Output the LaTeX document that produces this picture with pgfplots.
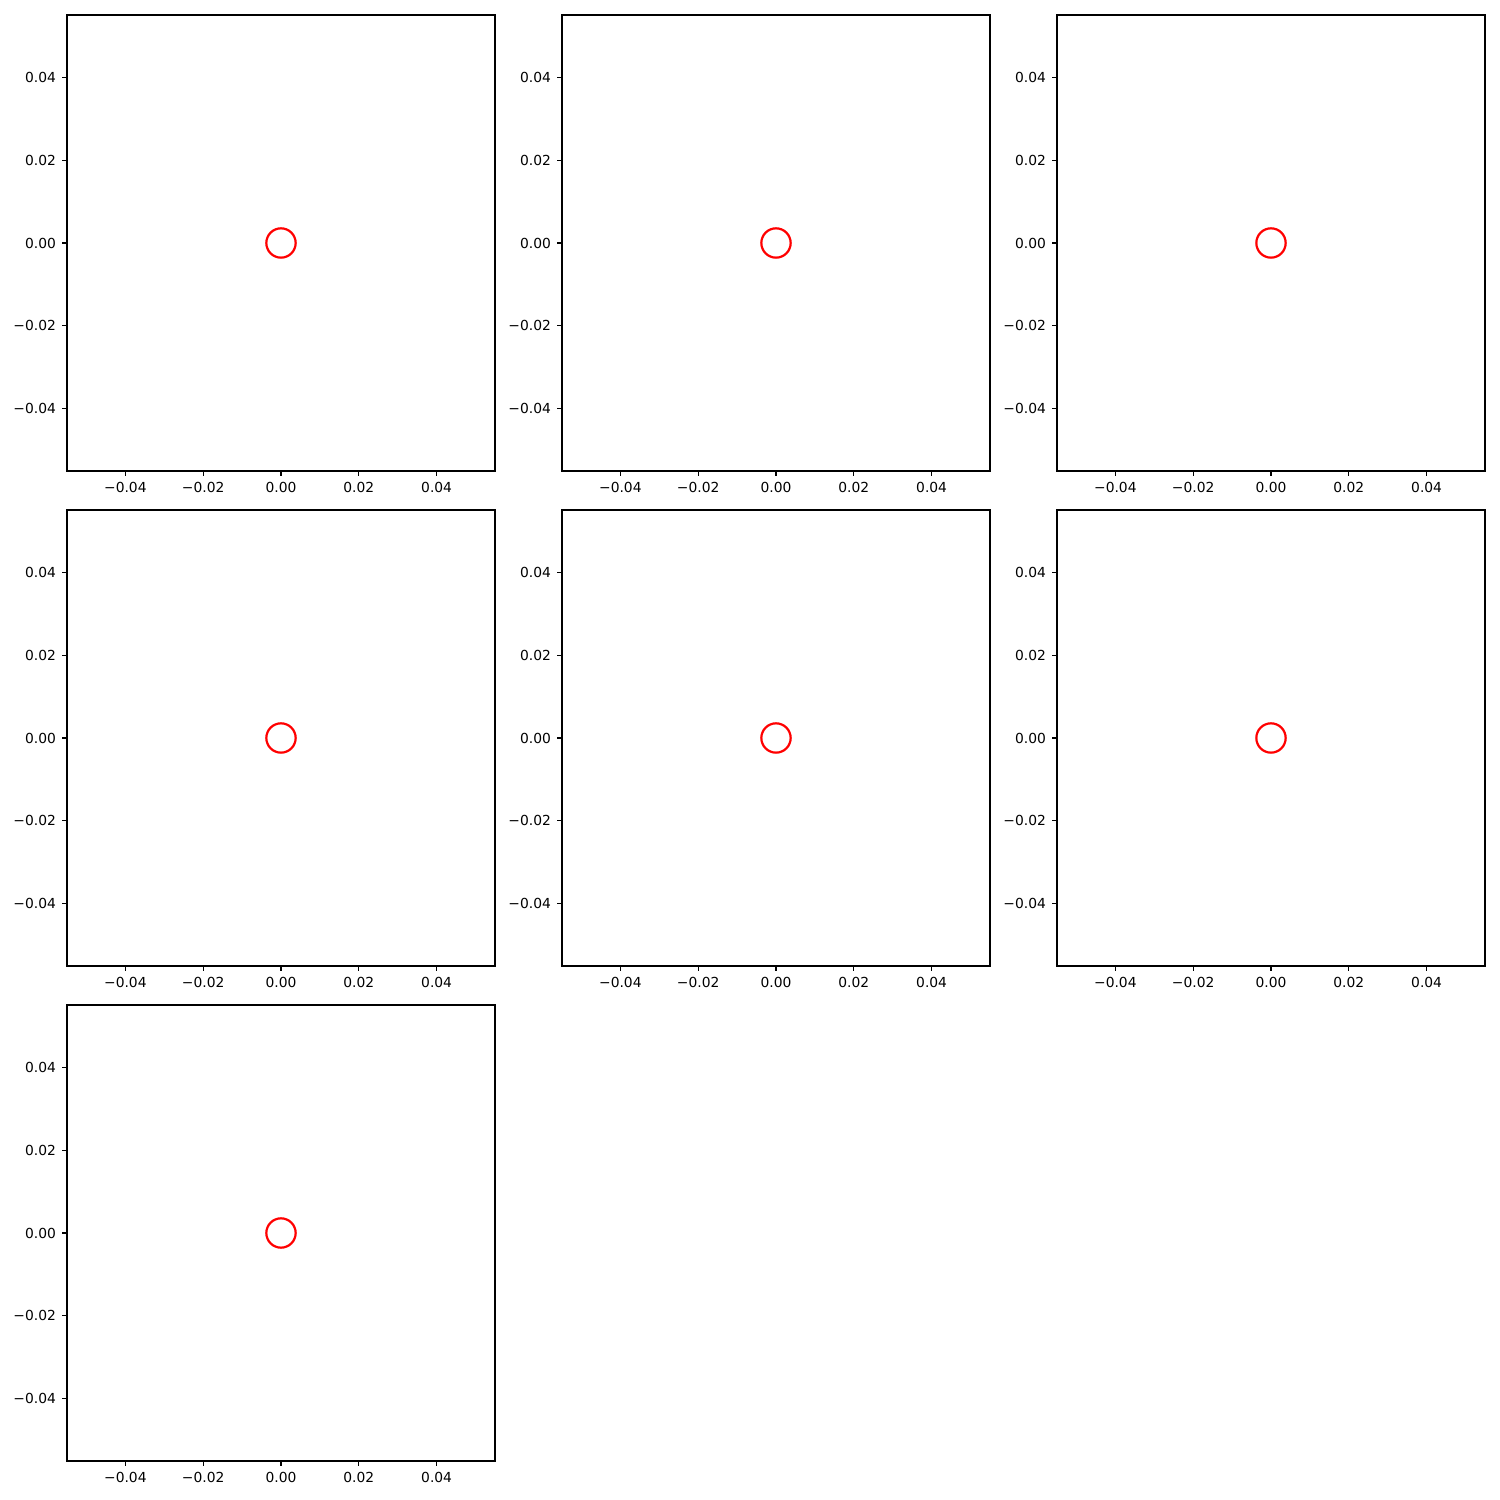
\documentclass[border=0pt]{standalone}
\usepackage{fontspec}
\setmainfont{DejaVu Sans}
\usepackage{pgfplots}
\pgfplotsset{compat=1.18}

\pgfplotsset{
  cell/.style={
    scale only axis,
    width=4.28in,height=4.56in,
    anchor=south west,
    xmin=-0.055,xmax=0.055,ymin=-0.055,ymax=0.055,
    scaled ticks=false,
    xtick={-0.04,-0.02,0,0.02,0.04},
    ytick={-0.04,-0.02,0,0.02,0.04},
    xticklabels={−0.04,−0.02,0.00,0.02,0.04},
    yticklabels={−0.04,−0.02,0.00,0.02,0.04},
    tick align=outside,xtick pos=bottom,ytick pos=left,
    major tick length=3.5pt,
    every tick/.style={black,line width=0.8pt},
    axis line style={line width=0.8pt},
    tick label style={font=\fontsize{10}{12}\selectfont},
    xticklabel style={yshift=-1pt},
    yticklabel style={xshift=-1pt},
  },
  ring/.style={only marks,mark=o,mark size=10.6pt,
    mark options={draw=red,line width=1.6pt}},
}

\begin{document}
\begin{tikzpicture}
  \path[use as bounding box] (0,0) rectangle (15in,15in);
  % row 1
  \begin{axis}[cell,at={(0.67in,10.29in)}]
    \addplot[ring] coordinates {(0,0)};
  \end{axis}
  \begin{axis}[cell,at={(5.62in,10.29in)}]
    \addplot[ring] coordinates {(0,0)};
  \end{axis}
  \begin{axis}[cell,at={(10.57in,10.29in)}]
    \addplot[ring] coordinates {(0,0)};
  \end{axis}
  % row 2
  \begin{axis}[cell,at={(0.67in,5.34in)}]
    \addplot[ring] coordinates {(0,0)};
  \end{axis}
  \begin{axis}[cell,at={(5.62in,5.34in)}]
    \addplot[ring] coordinates {(0,0)};
  \end{axis}
  \begin{axis}[cell,at={(10.57in,5.34in)}]
    \addplot[ring] coordinates {(0,0)};
  \end{axis}
  % row 3
  \begin{axis}[cell,at={(0.67in,0.39in)}]
    \addplot[ring] coordinates {(0,0)};
  \end{axis}
\end{tikzpicture}
\end{document}
